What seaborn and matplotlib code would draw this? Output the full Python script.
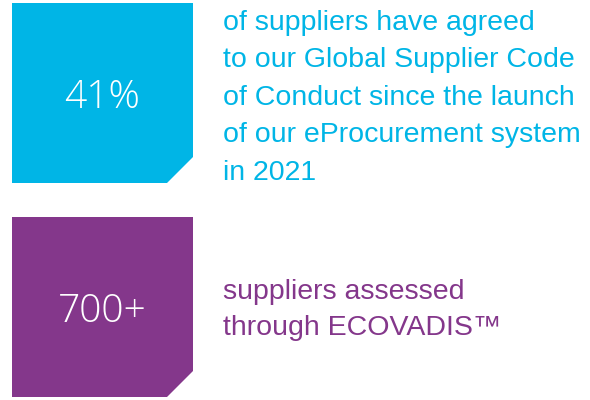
import matplotlib
matplotlib.use("Agg")
import matplotlib.pyplot as plt
import seaborn as sns

sns.set_theme(style="white")
plt.rcParams['font.family'] = ['Liberation Sans', 'DejaVu Sans']

stats = ["41%", "700+"]
descriptions = [
    ["of suppliers have agreed", "to our Global Supplier Code", "of Conduct since the launch",
     "of our eProcurement system", "in 2021"],
    ["suppliers assessed", "through ECOVADIS\u2122"],
]
colors = ["#00B5E6", "#84378B"]

W, H = 590, 400
fig = plt.figure(figsize=(W / 100, H / 100), dpi=100)
ax = fig.add_axes([0, 0, 1, 1])
ax.set_xlim(0, W)
ax.set_ylim(H, 0)
ax.axis("off")

box_tops = [3, 217]
box_left, box_right, box_h, cut = 12, 193, 180, 26
num_base = [108, 322]
text_base = [[30, 67, 105, 142, 180], [299, 335]]

for i, (s, desc, c) in enumerate(zip(stats, descriptions, colors)):
    t = box_tops[i]
    b = t + box_h
    xs = [box_left, box_right, box_right, box_right - cut, box_left]
    ys = [t, t, b - cut, b, b]
    ax.fill(xs, ys, color=c, lw=0)
    ax.text((box_left + box_right) / 2, num_base[i], s, color="white", fontsize=28,
            ha="center", va="baseline", family=["Open Sans", "DejaVu Sans"], fontweight="light")
    for line, y in zip(desc, text_base[i]):
        ax.text(223, y, line, color=c, fontsize=20.5, ha="left", va="baseline")

fig.savefig("out.png", dpi=100)
